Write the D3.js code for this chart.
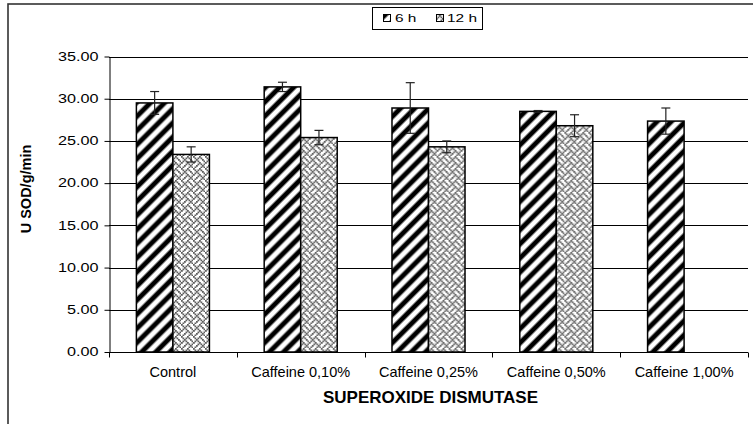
<!DOCTYPE html>
<html>
<head>
<meta charset="utf-8">
<script src="https://cdn.jsdelivr.net/npm/d3@7"></script>
<style>
  body { margin: 0; background: #fff; }
  svg { display: block; font-family: "Liberation Sans", Arial, sans-serif; }
</style>
</head>
<body>
<svg id="chart" width="753" height="424"></svg>
<script>
// values
const categories = ['Control', 'Caffeine 0,10%', 'Caffeine 0,25%', 'Caffeine 0,50%', 'Caffeine 1,00%'];
const seriesNames = ['6 h', '12 h'];
const sod6h = [29.5, 31.4, 28.9, 28.5, 27.35];
const sod12h = [23.4, 25.4, 24.3, 26.8, null];
const err6h = [1.35, 0.55, 3.0, 0.1, 1.55];
const err12h = [0.9, 0.85, 0.7, 1.3, null];
const yTicks = [0, 5, 10, 15, 20, 25, 30, 35];

const svg = d3.select('#chart');
const width = 753;
const height = 424;
const margin = { top: 56.5, right: 5, bottom: 72, left: 109 };

// stretch text sideways, the original is wider than Arial
function stretch(sel, k) {
  sel.each(function() {
    const w = this.getComputedTextLength();
    d3.select(this).attr('textLength', w * k).attr('lengthAdjust', 'spacingAndGlyphs');
  });
}

const defs = svg.append('defs');

// diagonal black stripes for 6 h
const stripes = defs.append('pattern')
  .attr('id', 'stripes')
  .attr('patternUnits', 'userSpaceOnUse')
  .attr('width', 10)
  .attr('height', 10)
  .attr('patternTransform', 'rotate(45)');
stripes.append('rect').attr('width', 10).attr('height', 10).attr('fill', '#fff');
stripes.append('rect').attr('x', 0).attr('width', 4).attr('height', 10).attr('fill', '#000');
stripes.append('rect').attr('x', 4).attr('width', 1).attr('height', 10).attr('fill', '#888');
stripes.append('rect').attr('x', 9).attr('width', 1).attr('height', 10).attr('fill', '#888');

// grey weave for 12 h
const weaveBits = [
  '10001000',
  '01010100',
  '00100010',
  '01010001',
  '10001000',
  '00010101',
  '00100010',
  '01000101'
];
const weave = defs.append('pattern')
  .attr('id', 'weave')
  .attr('patternUnits', 'userSpaceOnUse')
  .attr('width', 12)
  .attr('height', 12);
weave.append('rect').attr('width', 12).attr('height', 12).attr('fill', '#fff');
weaveBits.forEach((row, r) => {
  row.split('').forEach((b, c) => {
    if (b === '1') {
      weave.append('rect')
        .attr('x', c * 1.5)
        .attr('y', r * 1.5)
        .attr('width', 1.8)
        .attr('height', 1.8)
        .attr('fill', '#5e5e5e');
    }
  });
});

const fills = { '6 h': 'url(#stripes)', '12 h': 'url(#weave)' };

// outer frame (cut off on the right and bottom)
svg.append('rect')
  .attr('x', 8)
  .attr('y', 4)
  .attr('width', 800)
  .attr('height', 500)
  .attr('fill', 'none')
  .attr('stroke', '#333')
  .attr('stroke-width', 1.6);

const x0 = d3.scaleBand()
  .domain(categories)
  .range([margin.left, width - margin.right])
  .padding(0);

const x1 = d3.scaleBand()
  .domain(seriesNames)
  .range([0, x0.bandwidth()])
  .paddingInner(0)
  .paddingOuter(0.75);

const y = d3.scaleLinear()
  .domain([0, 35])
  .range([height - 72, margin.top]);

// gridlines
svg.append('g')
  .selectAll('line')
  .data(yTicks)
  .enter()
  .append('line')
  .attr('x1', margin.left)
  .attr('x2', width - margin.right)
  .attr('y1', d => Math.round(y(d)) + 0.5)
  .attr('y2', d => Math.round(y(d)) + 0.5)
  .attr('stroke', '#000')
  .attr('stroke-width', 1);

// y axis
const yAxis = svg.append('g')
  .attr('transform', `translate(${margin.left + 0.5},0)`)
  .call(d3.axisLeft(y).tickValues(yTicks).tickFormat(d3.format('.2f')).tickSize(5).tickPadding(6).tickSizeOuter(0));
yAxis.select('.domain').attr('stroke', '#000');
yAxis.selectAll('line').attr('stroke', '#000');
yAxis.selectAll('text')
  .attr('font-family', '"Liberation Sans", Arial, sans-serif')
  .attr('font-size', 12)
  .attr('fill', '#000');
stretch(yAxis.selectAll('text'), 1.35);

// bars
const rows = categories.map((c, i) => ({
  cat: c,
  vals: [
    { key: '6 h', value: sod6h[i], err: err6h[i] },
    { key: '12 h', value: sod12h[i], err: err12h[i] }
  ].filter(v => v.value != null)
}));

const groups = svg.append('g')
  .selectAll('g')
  .data(rows)
  .enter()
  .append('g')
  .attr('transform', d => `translate(${x0(d.cat)},0)`);

groups.selectAll('rect')
  .data(d => d.vals)
  .enter()
  .append('rect')
  .attr('x', d => x1(d.key))
  .attr('y', d => y(d.value))
  .attr('width', x1.bandwidth())
  .attr('height', d => y(0) - y(d.value))
  .attr('fill', d => fills[d.key])
  .attr('stroke', '#000')
  .attr('stroke-width', 1.5);

// error bars
const eb = groups.selectAll('g.err')
  .data(d => d.vals)
  .enter()
  .append('g')
  .attr('class', 'err')
  .attr('stroke', '#222')
  .attr('stroke-width', 1.2);

eb.append('line')
  .attr('x1', d => x1(d.key) + x1.bandwidth() / 2)
  .attr('x2', d => x1(d.key) + x1.bandwidth() / 2)
  .attr('y1', d => y(d.value + d.err))
  .attr('y2', d => y(d.value - d.err));

eb.append('line')
  .attr('x1', d => x1(d.key) + x1.bandwidth() / 2 - 4.5)
  .attr('x2', d => x1(d.key) + x1.bandwidth() / 2 + 4.5)
  .attr('y1', d => y(d.value + d.err))
  .attr('y2', d => y(d.value + d.err));

eb.append('line')
  .attr('x1', d => x1(d.key) + x1.bandwidth() / 2 - 4.5)
  .attr('x2', d => x1(d.key) + x1.bandwidth() / 2 + 4.5)
  .attr('y1', d => y(d.value - d.err))
  .attr('y2', d => y(d.value - d.err));

// x axis line, boundary ticks and labels
const y0 = Math.round(y(0)) + 0.5;
svg.append('line')
  .attr('x1', margin.left)
  .attr('x2', width - margin.right)
  .attr('y1', y0)
  .attr('y2', y0)
  .attr('stroke', '#000');

const bounds = d3.range(categories.length + 1).map(i => x0.range()[0] + i * x0.step());
svg.append('g')
  .selectAll('line')
  .data(bounds)
  .enter()
  .append('line')
  .attr('x1', d => Math.round(d) + 0.5)
  .attr('x2', d => Math.round(d) + 0.5)
  .attr('y1', y0)
  .attr('y2', y0 + 5)
  .attr('stroke', '#000');

svg.append('g')
  .selectAll('text')
  .data(categories)
  .enter()
  .append('text')
  .attr('x', d => x0(d) + x0.bandwidth() / 2)
  .attr('y', 377)
  .attr('text-anchor', 'middle')
  .attr('font-size', 14.5)
  .attr('fill', '#000')
  .text(d => d);

// axis titles
svg.append('text')
  .attr('x', (margin.left + width - margin.right) / 2 + 2)
  .attr('y', 403)
  .attr('text-anchor', 'middle')
  .attr('font-size', 17)
  .attr('font-weight', 'bold')
  .text('SUPEROXIDE DISMUTASE');

svg.append('text')
  .attr('transform', 'translate(31,189) rotate(-90)')
  .attr('text-anchor', 'middle')
  .attr('font-size', 14.5)
  .attr('font-weight', 'bold')
  .text('U SOD/g/min');

// legend
const legend = svg.append('g');
legend.append('rect')
  .attr('x', 372.5)
  .attr('y', 7.5)
  .attr('width', 110)
  .attr('height', 22)
  .attr('fill', '#fff')
  .attr('stroke', '#000');

const legendX = { '6 h': 383, '12 h': 436 };
const items = legend.selectAll('g.item')
  .data(seriesNames)
  .enter()
  .append('g')
  .attr('class', 'item')
  .attr('transform', d => `translate(${legendX[d]},0)`);

items.append('rect')
  .attr('x', 0.5)
  .attr('y', 14.5)
  .attr('width', 7)
  .attr('height', 7)
  .attr('fill', d => fills[d])
  .attr('stroke', '#000');

items.append('text')
  .attr('x', d => d === '6 h' ? 12 : 11)
  .attr('y', 22)
  .attr('font-size', 11)
  .attr('fill', '#000')
  .text(d => d);
stretch(items.selectAll('text'), 1.4);
</script>
</body>
</html>
